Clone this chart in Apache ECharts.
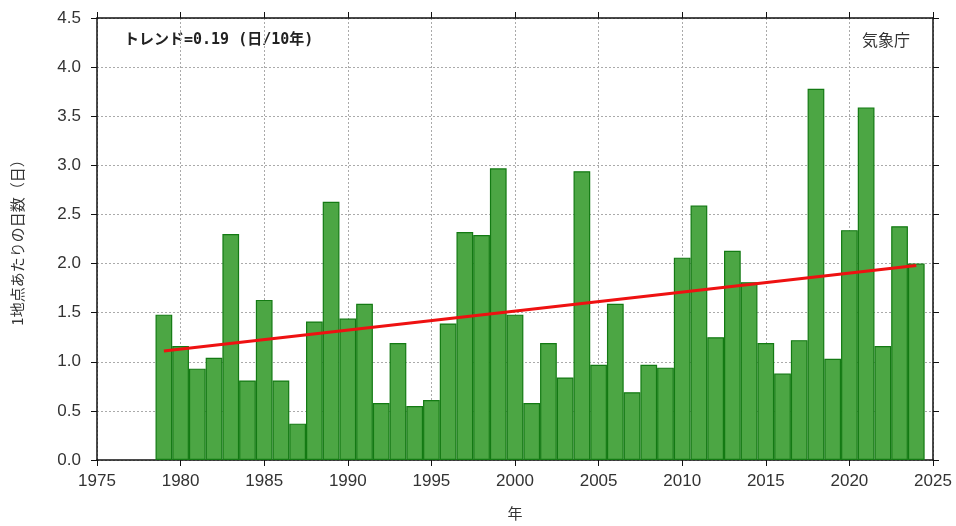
<!DOCTYPE html>
<html><head><meta charset="utf-8">
<script src="https://cdn.jsdelivr.net/npm/echarts@6/dist/echarts.min.js"></script>
<style>html,body{margin:0;padding:0;background:#fff}#c{width:956px;height:526px}</style>
</head><body><div id="c"></div>
<script>
const years = [1979,1980,1981,1982,1983,1984,1985,1986,1987,1988,1989,1990,1991,1992,1993,1994,1995,1996,1997,1998,1999,2000,2001,2002,2003,2004,2005,2006,2007,2008,2009,2010,2011,2012,2013,2014,2015,2016,2017,2018,2019,2020,2021,2022,2023,2024];
const days = [1.48,1.16,0.93,1.04,2.30,0.81,1.63,0.81,0.37,1.41,2.63,1.44,1.59,0.58,1.19,0.55,0.61,1.39,2.32,2.29,2.97,1.48,0.58,1.19,0.84,2.94,0.97,1.59,0.69,0.97,0.94,2.06,2.59,1.25,2.13,1.81,1.19,0.88,1.22,3.78,1.03,2.34,3.59,1.16,2.38,2.00];
const trendYears = [1979, 2024];
const trendValues = [1.11, 1.98];
const trendText = 'トレンド=0.19 (日/10年)';
const sourceText = '気象庁';
const yName = '1地点あたりの日数（日）';
const xName = '年';

const font = '"Liberation Sans Narrow","Liberation Sans","Noto Sans CJK JP",sans-serif';
const chart = echarts.init(document.getElementById('c'));
const grid = {left:97,right:23,top:18,bottom:65};
const splitLine = {show:true,lineStyle:{color:'#aaa',type:[2,2],width:1}};
const frame = {show:true,onZero:false,lineStyle:{color:'#111',width:1.5}};
chart.setOption({
  animation:false,
  grid:grid,
  graphic:[
    {type:'text',left:124,top:33,style:{text:trendText,font:'bold 15px "DejaVu Sans Mono","Noto Sans CJK JP",monospace',fill:'#222'}},
    {type:'text',right:46,top:32,style:{text:sourceText,font:'16px "Noto Sans CJK JP",sans-serif',fill:'#333'}}
  ],
  xAxis:[{
    type:'value',min:1975,max:2025,interval:5,position:'bottom',
    name:xName,nameLocation:'middle',nameGap:46,
    nameTextStyle:{fontFamily:'"Noto Sans CJK JP",sans-serif',fontSize:15,color:'#333'},
    axisLine:frame,
    axisTick:{show:true,inside:false,length:6,lineStyle:{color:'#111'}},
    axisLabel:{fontFamily:font,fontSize:17,color:'#333',margin:13,formatter:v=>String(v)},
    splitLine:splitLine
  },{
    type:'value',min:1975,max:2025,interval:5,position:'top',
    axisLine:frame,
    axisTick:{show:true,inside:false,length:6,lineStyle:{color:'#111'}},
    axisLabel:{show:false},splitLine:{show:false}
  }],
  yAxis:[{
    type:'value',min:0,max:4.5,interval:0.5,position:'left',
    name:yName,nameLocation:'middle',nameGap:72,nameRotate:90,
    nameTextStyle:{fontFamily:'"Noto Sans CJK JP",sans-serif',fontSize:15,color:'#333'},
    axisLine:frame,
    axisTick:{show:true,inside:false,length:6,lineStyle:{color:'#111'}},
    axisLabel:{fontFamily:font,fontSize:17,color:'#333',margin:16,formatter:v=>v.toFixed(1)},
    splitLine:splitLine
  },{
    type:'value',min:0,max:4.5,interval:0.5,position:'right',
    axisLine:frame,
    axisTick:{show:true,inside:false,length:6,lineStyle:{color:'#111'}},
    axisLabel:{show:false},splitLine:{show:false}
  }],
  series:[{
    type:'bar',xAxisIndex:0,yAxisIndex:0,
    data:years.map((y,i)=>[y,days[i]]),
    barWidth:16.72,
    itemStyle:{color:'#4ca644',borderColor:'#137a13',borderWidth:1.2}
  },{
    type:'line',xAxisIndex:0,yAxisIndex:0,
    data:trendYears.map((y,i)=>[y,trendValues[i]]),
    symbol:'none',lineStyle:{color:'#ee1111',width:3},z:5
  }]
});
</script></body></html>
